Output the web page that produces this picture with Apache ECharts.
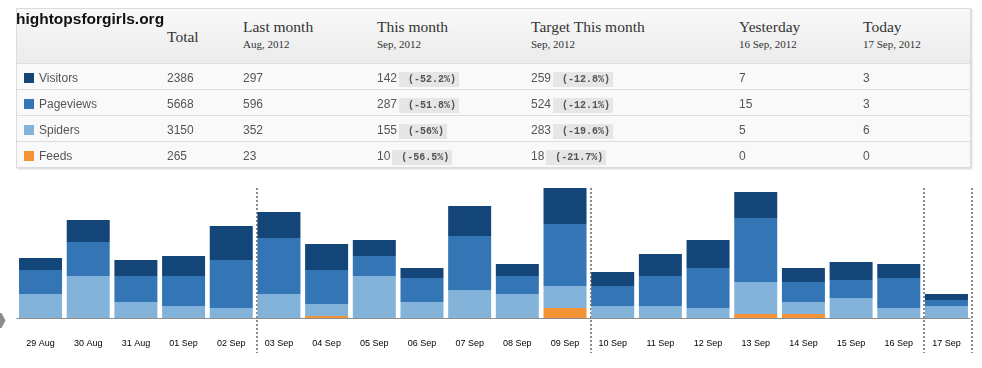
<!DOCTYPE html>
<html>
<head>
<meta charset="utf-8">
<script src="https://cdn.jsdelivr.net/npm/echarts@6/dist/echarts.min.js"></script>
<style>
html,body{margin:0;padding:0;background:#fff;width:982px;height:368px;overflow:hidden;}
#chart{position:absolute;left:0;top:0;width:982px;height:368px;}
#box{position:absolute;left:16px;top:8px;width:953px;height:158px;border:1px solid #dcdcdc;box-shadow:1px 1px 2px rgba(0,0,0,0.18);background:#fafafa;z-index:2;}
#head{position:absolute;left:0;top:0;width:100%;height:54px;background:linear-gradient(#f9f9f9,#ebebeb);border-bottom:1px solid #e2e2e2;}
.h{position:absolute;font-family:"Liberation Serif",serif;font-size:15.5px;line-height:16px;color:#333;white-space:nowrap;}
.hs{position:absolute;font-family:"Liberation Serif",serif;font-size:11px;line-height:11px;color:#333;white-space:nowrap;}
.row{position:absolute;left:0;width:100%;height:25px;border-top:1px solid #dddddd;background:#f9f9f9;}
.c{position:absolute;top:1px;height:26px;line-height:26px;font-family:"Liberation Sans",Arial,sans-serif;font-size:12px;color:#555;white-space:nowrap;}
.sq{display:inline-block;width:10px;height:10px;vertical-align:-1px;margin-right:5px;}
.b{display:inline-block;height:15px;line-height:15px;margin-left:2px;padding:0 3px 0 3px;background:#e6e6e6;font-family:"Liberation Mono",monospace;font-weight:bold;font-size:10px;color:#555;vertical-align:0px;}
#title{position:absolute;left:16px;top:11px;font-family:"Liberation Sans",Arial,sans-serif;font-weight:bold;font-size:15.5px;line-height:16px;color:#111;z-index:3;white-space:nowrap;}
</style>
</head>
<body>
<div id="chart"></div>
<div id="title">hightopsforgirls.org</div>
<div id="box"><div id="head"></div></div>
<script>
// ---- table data ----
const metrics = ['Visitors', 'Pageviews', 'Spiders', 'Feeds'];
const metricColors = ['#144578', '#3475b5', '#84b3d9', '#f39335'];
const headers = ['Total', 'Last month', 'This month', 'Target This month', 'Yesterday', 'Today'];
const subHeaders = ['', 'Aug, 2012', 'Sep, 2012', 'Sep, 2012', '16 Sep, 2012', '17 Sep, 2012'];
const totals = [2386, 5668, 3150, 265];
const lastMonth = [297, 596, 352, 23];
const thisMonth = [142, 287, 155, 10];
const thisMonthChange = ['-52.2%', '-51.8%', '-56%', '-56.5%'];
const targetMonth = [259, 524, 283, 18];
const targetChange = ['-12.8%', '-12.1%', '-19.6%', '-21.7%'];
const yesterday = [7, 15, 5, 0];
const today = [3, 3, 6, 0];

// ---- chart data ----
const categories = ['29 Aug', '30 Aug', '31 Aug', '01 Sep', '02 Sep', '03 Sep', '04 Sep', '05 Sep', '06 Sep', '07 Sep',
  '08 Sep', '09 Sep', '10 Sep', '11 Sep', '12 Sep', '13 Sep', '14 Sep', '15 Sep', '16 Sep', '17 Sep'];
const visitors  = [6, 11, 8, 10, 17, 13, 13, 8, 5, 15, 6, 18, 7, 11, 14, 13, 7, 9, 7, 3];
const pageviews = [12, 17, 13, 15, 24, 28, 17, 10, 12, 27, 9, 31, 10, 15, 20, 32, 10, 9, 15, 3];
const spiders   = [12, 21, 8, 6, 5, 12, 6, 21, 8, 14, 12, 11, 6, 6, 5, 16, 6, 10, 5, 6];
const feeds     = [0, 0, 0, 0, 0, 0, 1, 0, 0, 0, 0, 5, 0, 0, 0, 2, 2, 0, 0, 0];
const weekStarts = ['03 Sep', '10 Sep', '17 Sep'];

// ---- build table ----
const box = document.getElementById('box');
const colX = [150, 226, 360, 514, 722, 846]; // relative to box
const head = document.getElementById('head');
headers.forEach((h, i) => {
  const d = document.createElement('div');
  d.className = 'h';
  d.style.left = colX[i] + 'px';
  d.style.top = (i === 0 ? 20 : 10) + 'px';
  d.textContent = h;
  head.appendChild(d);
  if (subHeaders[i]) {
    const s = document.createElement('div');
    s.className = 'hs';
    s.style.left = colX[i] + 'px';
    s.style.top = '30px';
    s.textContent = subHeaders[i];
    head.appendChild(s);
  }
});
metrics.forEach((m, r) => {
  const row = document.createElement('div');
  row.className = 'row';
  row.style.top = (54 + r * 26) + 'px';
  const cells = [
    '<span class="sq" style="background:' + metricColors[r] + '"></span>' + m,
    totals[r], lastMonth[r],
    thisMonth[r] + '<span class="b">&nbsp;(' + thisMonthChange[r] + ')</span>',
    targetMonth[r] + '<span class="b">&nbsp;(' + targetChange[r] + ')</span>',
    yesterday[r], today[r]
  ];
  const xs = [7].concat(colX);
  cells.forEach((c, i) => {
    const d = document.createElement('div');
    d.className = 'c';
    d.style.left = xs[i] + 'px';
    d.innerHTML = c;
    row.appendChild(d);
  });
  box.appendChild(row);
});

// ---- chart ----
const chart = echarts.init(document.getElementById('chart'));
const barW = 43;
function bar(name, data, color) {
  return {
    name: name, type: 'bar', stack: 'all', data: data, barWidth: barW,
    xAxisIndex: 0, yAxisIndex: 0,
    itemStyle: { color: color },
    emphasis: { disabled: true }
  };
}
chart.setOption({
  animation: false,
  grid: [
    { left: 16.7, right: 11.7, top: 178, bottom: 50 },
    { left: 18.2, right: 10.2, top: 188, bottom: 15 }
  ],
  xAxis: [
    {
      type: 'category', data: categories, gridIndex: 0,
      axisLine: { lineStyle: { color: '#8f8f8f', width: 1 } },
      axisTick: { show: false },
      axisLabel: { interval: 0, margin: 21, fontSize: 9, color: '#000', fontFamily: 'Liberation Sans' },
      splitLine: { show: false }
    },
    {
      type: 'category', data: categories, gridIndex: 1,
      axisLine: { show: false }, axisTick: { show: false }, axisLabel: { show: false },
      splitLine: {
        show: true,
        interval: function (idx, val) { return weekStarts.indexOf(val) >= 0; },
        lineStyle: { color: '#888', width: 2, type: [2, 2] }
      }
    }
  ],
  yAxis: [
    { type: 'value', gridIndex: 0, min: 0, max: 70, show: false },
    { type: 'value', gridIndex: 1, min: 0, max: 1, show: false }
  ],
  graphic: [
    { type: 'polygon', shape: { points: [[0, 313], [1.5, 313], [5.5, 320.5], [1.5, 328], [0, 328]] }, style: { fill: '#8c8c8c' } }
  ],
  series: [
    bar('Feeds', feeds, '#f39335'),
    bar('Spiders', spiders, '#84b3d9'),
    bar('Pageviews', pageviews, '#3475b5'),
    bar('Visitors', visitors, '#144578')
  ]
});
</script>
</body>
</html>
